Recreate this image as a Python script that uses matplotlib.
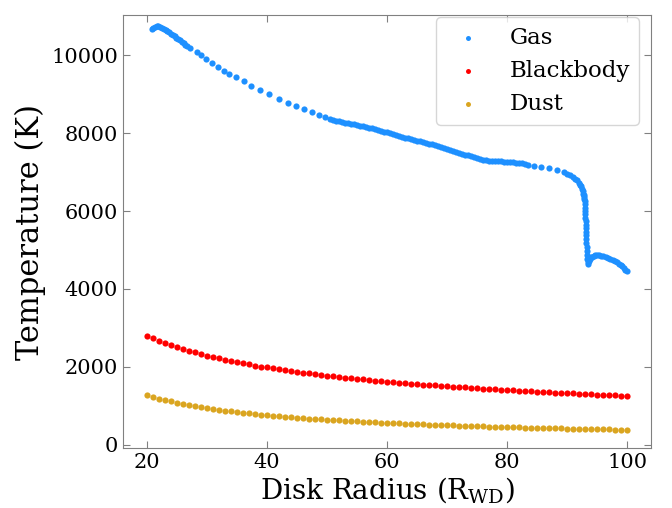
import matplotlib
matplotlib.use("Agg")
import matplotlib.pyplot as plt

# ---- data ----
radius_grid = list(range(20, 101))

blackbody_T = [2800, 2733, 2670, 2611, 2556, 2504, 2456, 2410, 2366, 2325,
               2286, 2249, 2214, 2180, 2147, 2117, 2087, 2059, 2031, 2005,
               1980, 1956, 1932, 1910, 1888, 1867, 1846, 1827, 1807, 1789,
               1771, 1753, 1736, 1720, 1704, 1688, 1673, 1659, 1644, 1630,
               1617, 1603, 1590, 1578, 1565, 1553, 1541, 1530, 1519, 1507,
               1497, 1486, 1476, 1466, 1456, 1446, 1436, 1427, 1418, 1409,
               1400, 1391, 1383, 1374, 1366, 1358, 1350, 1342, 1335, 1327,
               1320, 1313, 1306, 1298, 1292, 1285, 1278, 1271, 1265, 1259,
               1252]

dust_T = [1270, 1224, 1182, 1144, 1108, 1074, 1043, 1014, 987, 961,
          937, 914, 893, 872, 853, 835, 817, 801, 785, 770,
          755, 741, 728, 715, 703, 691, 680, 669, 659, 649,
          639, 629, 620, 611, 603, 595, 587, 579, 571, 564,
          557, 550, 544, 537, 531, 525, 519, 513, 507, 502,
          496, 491, 486, 481, 476, 471, 467, 462, 458, 453,
          449, 445, 441, 437, 433, 429, 425, 422, 418, 415,
          411, 408, 404, 401, 398, 395, 392, 389, 386, 383,
          380]

gas_r = [20.8, 21.0, 21.3, 21.6, 21.9, 22.2, 22.5, 22.8, 23.1, 23.4, 23.7,
         24.0, 24.3, 24.6, 24.9, 25.2, 25.5, 25.8, 26.1, 26.4, 26.7, 27.2,
         28.3, 29.0, 29.9, 30.9, 31.9, 32.9, 33.7, 34.8, 36.1, 37.4, 38.9,
         40.4, 42.0, 43.5, 44.9, 46.2, 47.5, 48.6, 49.6, 50.5,
         51.0, 51.5, 52.0, 52.5, 53.0, 53.5, 54.0, 54.5, 55.0, 55.5, 56.0,
         56.5, 57.0, 57.5, 58.0, 58.5, 59.0, 59.5, 60.0, 60.5, 61.0, 61.5,
         62.0, 62.5, 63.0, 63.5, 64.0, 64.5, 65.0, 65.5, 66.0, 66.5, 67.0,
         67.5, 68.0, 68.5, 69.0, 69.5, 70.0, 70.5, 71.0, 71.5, 72.0, 72.5,
         73.0, 73.5, 74.0, 74.5, 75.0, 75.5, 76.0, 76.5, 77.0, 77.5, 78.0,
         78.5, 79.0, 79.5, 80.0, 80.5, 81.0, 81.5, 82.0, 82.5, 83.0, 83.5,
         84.4, 85.6, 86.9, 88.3, 89.4,
         90.0, 90.5, 91.0, 91.3, 91.6, 91.9, 92.1, 92.3, 92.5, 92.6, 92.7,
         92.75, 92.8, 92.85, 92.9, 92.93, 92.96, 93.0, 93.02, 93.05, 93.07,
         93.1, 93.12, 93.15, 93.17, 93.2, 93.22, 93.24, 93.26, 93.28, 93.3,
         93.4, 93.5, 93.65, 93.8, 94.0, 94.2, 94.4, 94.6, 94.9, 95.3, 95.6,
         96.0, 96.4, 96.8, 97.2, 97.6, 98.0, 98.3, 98.6, 98.9, 99.1, 99.4,
         99.7, 100.0]

gas_T = [10670, 10710, 10740, 10755, 10752, 10738, 10715, 10688, 10658, 10627, 10594,
         10560, 10525, 10490, 10455, 10420, 10385, 10350, 10313, 10277, 10240, 10180,
         10085, 10000, 9897, 9795, 9692, 9607, 9530, 9453, 9340, 9222, 9109,
         8998, 8888, 8785, 8708, 8621, 8540, 8477, 8425, 8374,
         8335, 8318, 8300, 8285, 8270, 8255, 8240, 8225, 8210, 8193, 8176,
         8160, 8142, 8122, 8102, 8082, 8060, 8040, 8018, 7997, 7975, 7953,
         7930, 7908, 7887, 7866, 7846, 7826, 7807, 7788, 7769, 7750, 7730,
         7712, 7692, 7670, 7646, 7620, 7594, 7566, 7540, 7515, 7490, 7468,
         7450, 7432, 7412, 7390, 7368, 7346, 7322, 7305, 7296, 7290, 7286,
         7281, 7276, 7271, 7266, 7260, 7253, 7245, 7236, 7222, 7205, 7188,
         7157, 7131, 7100, 7060, 7002,
         6961, 6925, 6870, 6830, 6789, 6730, 6680, 6630, 6560, 6505, 6450,
         6400, 6350, 6300, 6250, 6170, 6090, 6000, 5920, 5830, 5740,
         5650, 5560, 5470, 5380, 5280, 5180, 5080, 4980, 4880, 4780,
         4680, 4650, 4720, 4778, 4810, 4830, 4848, 4858, 4862, 4860, 4855,
         4845, 4830, 4805, 4778, 4750, 4718, 4691, 4650, 4610, 4580, 4530,
         4490, 4452]

series_labels = ["Gas", "Blackbody", "Dust"]
series_colors = ["dodgerblue", "red", "goldenrod"]

# ---- plot ----
plt.rcParams['font.family'] = ['DejaVu Serif']
plt.rcParams['mathtext.fontset'] = 'dejavuserif'

fig = plt.figure(figsize=(6.72, 5.08), dpi=100)
ax = fig.add_axes([0.183, 0.118, 0.786, 0.852])

ax.scatter(gas_r, gas_T, s=20, color=series_colors[0], linewidths=0, label=series_labels[0])
ax.scatter(radius_grid, blackbody_T, s=20, color=series_colors[1], linewidths=0, label=series_labels[1])
ax.scatter(radius_grid, dust_T, s=20, color=series_colors[2], linewidths=0, label=series_labels[2])

ax.set_xlim(16, 104)
ax.set_ylim(-90, 11030)
ax.set_xticks([20, 40, 60, 80, 100])
ax.set_yticks([0, 2000, 4000, 6000, 8000, 10000])

for sp in ax.spines.values():
    sp.set_color('#808080')
ax.tick_params(direction='in', top=True, right=True, labelsize=15,
               color='#808080', length=5)

ax.set_xlabel(r'Disk Radius ($\mathrm{R_{WD}}$)', fontsize=20, labelpad=2)
ax.set_ylabel('Temperature (K)', fontsize=22)

ax.legend(loc='upper right', bbox_to_anchor=(0.977, 0.995), borderaxespad=0,
          fontsize=16.5, scatterpoints=1, markerscale=0.8)

fig.savefig('out.png', dpi=100)
